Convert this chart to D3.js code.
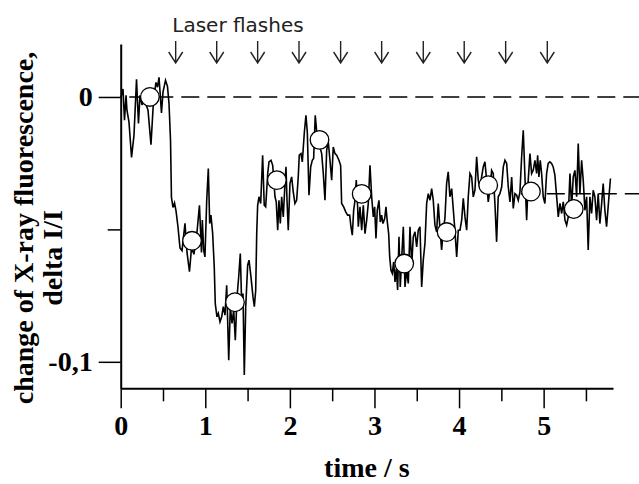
<!DOCTYPE html>
<html>
<head>
<meta charset="utf-8">
<script src="https://cdn.jsdelivr.net/npm/d3@7"></script>
<style>
  body { margin: 0; background: #fff; }
</style>
</head>
<body>
<svg width="639" height="484"></svg>
<script>
// Raw fluorescence trace, vertices: [time (s), delta I/I]
const trace = [
  [0.004, 0.000], [0.027, 0.003], [0.045, -0.0088], [0.063, 0.0006], [0.074, -0.005],
  [0.098, -0.0095], [0.128, -0.0228], [0.157, -0.0145], [0.187, 0.0067], [0.21, -0.010],
  [0.228, 0.0006], [0.252, -0.003], [0.275, -0.0005], [0.323, -0.005], [0.358, -0.018],
  [0.388, -0.0012], [0.417, 0.0055], [0.435, 0.0037], [0.453, 0.0074], [0.482, -0.006],
  [0.5, 0.0018], [0.53, 0.0063], [0.553, 0.004], [0.571, -0.0024], [0.589, -0.0163],
  [0.6, -0.0379], [0.618, -0.0417], [0.636, -0.040], [0.654, -0.043], [0.677, -0.049],
  [0.701, -0.057], [0.725, -0.058], [0.76, -0.0477], [0.784, -0.0587], [0.813, -0.066],
  [0.837, -0.057], [0.866, -0.0594], [0.902, -0.051], [0.931, -0.0409], [0.955, -0.0587],
  [0.965, -0.0465], [0.981, -0.0578], [0.996, -0.0604], [1.017, -0.039], [1.036, -0.027],
  [1.052, -0.0478], [1.067, -0.0446], [1.087, -0.0515], [1.106, -0.0642], [1.118, -0.078],
  [1.138, -0.083], [1.154, -0.0817], [1.174, -0.0849], [1.194, -0.083], [1.213, -0.0792],
  [1.233, -0.0824], [1.253, -0.0711], [1.277, -0.0994], [1.296, -0.0792], [1.316, -0.0855],
  [1.336, -0.0805], [1.355, -0.0918], [1.375, -0.0755], [1.395, -0.0679], [1.414, -0.0591],
  [1.43, -0.078], [1.446, -0.0742], [1.461, -0.105], [1.478, -0.0792], [1.501, -0.0635],
  [1.517, -0.0616], [1.54, -0.0679], [1.564, -0.0755], [1.58, -0.0792], [1.596, -0.073],
  [1.608, -0.0515], [1.619, -0.0409], [1.635, -0.0377], [1.655, -0.0402], [1.678, -0.022],
  [1.697, -0.0409], [1.714, -0.0415], [1.738, -0.0289], [1.753, -0.0245], [1.777, -0.0239],
  [1.797, -0.0258], [1.824, -0.0377], [1.839, -0.0396], [1.856, -0.0503], [1.871, -0.039],
  [1.887, -0.0478], [1.903, -0.0377], [1.922, -0.0453], [1.938, -0.0352], [1.954, -0.0264],
  [1.966, -0.039], [1.981, -0.0503], [2.001, -0.0327], [2.021, -0.0302], [2.04, -0.0358],
  [2.06, -0.0402], [2.08, -0.039], [2.099, -0.0302], [2.111, -0.022], [2.131, -0.0214],
  [2.147, -0.0245], [2.17, -0.0138], [2.19, -0.0069], [2.206, -0.0132], [2.226, -0.0371],
  [2.246, -0.0264], [2.265, -0.0239], [2.281, -0.0232], [2.3, -0.0069], [2.317, -0.0132],
  [2.336, -0.0163], [2.36, -0.0195], [2.376, -0.0214], [2.395, -0.0289], [2.415, -0.039],
  [2.435, -0.0201], [2.454, -0.017], [2.474, -0.0239], [2.494, -0.0314], [2.513, -0.0189],
  [2.533, -0.0214], [2.553, -0.022], [2.58, -0.0239], [2.6, -0.0258], [2.612, -0.0402],
  [2.636, -0.0415], [2.66, -0.0434], [2.683, -0.0446], [2.707, -0.0446], [2.722, -0.049],
  [2.738, -0.0522], [2.754, -0.0428], [2.77, -0.039], [2.785, -0.0314], [2.801, -0.0415],
  [2.809, -0.049], [2.829, -0.0415], [2.849, -0.0503], [2.868, -0.0409], [2.888, -0.0516],
  [2.908, -0.0465], [2.927, -0.0402], [2.947, -0.0258], [2.967, -0.0377], [2.986, -0.0453],
  [3.002, -0.0415], [3.018, -0.0534], [3.033, -0.0428], [3.053, -0.039], [3.069, -0.0472],
  [3.085, -0.0446], [3.1, -0.0478], [3.121, -0.0459], [3.136, -0.0415], [3.152, -0.0472],
  [3.168, -0.0516], [3.18, -0.0604], [3.195, -0.0654], [3.211, -0.0666], [3.227, -0.0623],
  [3.243, -0.0698], [3.258, -0.0648], [3.274, -0.0729], [3.29, -0.0528], [3.305, -0.0717],
  [3.321, -0.0616], [3.341, -0.049], [3.361, -0.0717], [3.381, -0.0654], [3.4, -0.0704],
  [3.42, -0.049], [3.44, -0.0635], [3.459, -0.0528], [3.479, -0.0509], [3.499, -0.0566],
  [3.518, -0.0503], [3.538, -0.049], [3.558, -0.0717], [3.577, -0.0616], [3.597, -0.0553],
  [3.617, -0.0402], [3.636, -0.0365], [3.656, -0.039], [3.676, -0.0346], [3.695, -0.039],
  [3.715, -0.0484], [3.735, -0.0509], [3.754, -0.0402], [3.774, -0.0497], [3.794, -0.0578],
  [3.813, -0.0503], [3.833, -0.0459], [3.853, -0.0327], [3.872, -0.0283], [3.892, -0.0377],
  [3.913, -0.0346], [3.931, -0.0421], [3.951, -0.0503], [3.972, -0.0604], [3.991, -0.0503],
  [4.011, -0.0503], [4.031, -0.0465], [4.05, -0.0383], [4.07, -0.0453], [4.09, -0.0503],
  [4.109, -0.0377], [4.129, -0.0289], [4.149, -0.0302], [4.168, -0.0377], [4.188, -0.0352],
  [4.208, -0.0226], [4.227, -0.0314], [4.247, -0.0346], [4.267, -0.0302], [4.286, -0.0264],
  [4.306, -0.0245], [4.326, -0.0314], [4.345, -0.0396], [4.365, -0.0352], [4.385, -0.0277],
  [4.404, -0.0289], [4.424, -0.0402], [4.444, -0.0547], [4.463, -0.0377], [4.483, -0.0365],
  [4.504, -0.034], [4.523, -0.0264], [4.543, -0.0239], [4.563, -0.0251], [4.582, -0.034],
  [4.602, -0.0396], [4.622, -0.0302], [4.641, -0.0421], [4.661, -0.0365], [4.681, -0.0371],
  [4.7, -0.039], [4.72, -0.0358], [4.74, -0.0226], [4.759, -0.0126], [4.779, -0.0302],
  [4.799, -0.0465], [4.818, -0.0314], [4.838, -0.0214], [4.858, -0.0289], [4.877, -0.0277],
  [4.897, -0.0239], [4.917, -0.0289], [4.929, -0.022], [4.944, -0.0302], [4.96, -0.0239],
  [4.976, -0.0289], [4.995, -0.0377], [5.015, -0.0402], [5.035, -0.0289], [5.054, -0.0251],
  [5.074, -0.0245], [5.094, -0.0251], [5.113, -0.0264], [5.133, -0.0295], [5.154, -0.0377],
  [5.173, -0.0453], [5.193, -0.0402], [5.213, -0.044], [5.232, -0.0396], [5.252, -0.0465],
  [5.272, -0.0484], [5.291, -0.0453], [5.311, -0.0289], [5.331, -0.0415], [5.35, -0.0302],
  [5.37, -0.0277], [5.39, -0.0377], [5.409, -0.0176], [5.429, -0.0365], [5.449, -0.0239],
  [5.468, -0.0314], [5.488, -0.0428], [5.508, -0.0377], [5.527, -0.0578], [5.547, -0.0377],
  [5.567, -0.044], [5.586, -0.0352], [5.606, -0.0377], [5.626, -0.0465], [5.645, -0.0365],
  [5.665, -0.0478], [5.686, -0.0402], [5.704, -0.0327], [5.724, -0.0428], [5.744, -0.049],
  [5.772, -0.0377], [5.79, -0.0308]
];

// Averages after each flash (open circles)
const means = [
  [0.345, 0.000], [0.843, -0.0543], [1.351, -0.0775], [1.846, -0.0314], [2.35, -0.0162],
  [2.849, -0.0366], [3.352, -0.0629], [3.853, -0.051], [4.345, -0.0333], [4.85, -0.0357],
  [5.356, -0.0423]
];

// Laser flash arrows
const flashTimes = [0.65, 1.135, 1.619, 2.108, 2.6, 3.085, 3.577, 4.061, 4.551, 5.043];

// Dashed reference levels: [level, start time]
const refLevels = [[0, 0], [-0.0365, 4.73]];

const xMajor = [0, 1, 2, 3, 4, 5];
const xMinor = [0.5, 1.5, 2.5, 3.5, 4.5, 5.5];
const yMajor = [0, -0.1];
const yMinor = [-0.05];

const svg = d3.select("svg");
const margin = { top: 44, right: 26, bottom: 95.7, left: 120.7 };
const width = 639 - margin.left - margin.right;
const height = 484 - margin.top - margin.bottom;

const g = svg.append("g").attr("transform", `translate(${margin.left},${margin.top})`);

const x = d3.scaleLinear().domain([0, 5.82]).range([0, width]);
const y = d3.scaleLinear().domain([-0.11, 0.02]).range([height, 0]);

const serif = "'Liberation Serif', 'Times New Roman', serif";

// dashed levels
g.selectAll(".ref")
  .data(refLevels)
  .enter().append("line")
  .attr("class", "ref")
  .attr("x1", d => x(d[1]))
  .attr("x2", 639 - margin.left)
  .attr("y1", d => y(d[0]))
  .attr("y2", d => y(d[0]))
  .attr("stroke", "#000")
  .attr("stroke-width", 1.5)
  .attr("stroke-dasharray", "18,8")
  .attr("stroke-dashoffset", (d, i) => i === 0 ? 17.4 : 0);

// trace
const line = d3.line().x(d => x(d[0])).y(d => y(d[1]));
g.append("path")
  .datum(trace)
  .attr("d", line)
  .attr("fill", "none")
  .attr("stroke", "#000")
  .attr("stroke-width", 1.6)
  .attr("stroke-linejoin", "miter");

// circles
g.selectAll(".mean")
  .data(means)
  .enter().append("circle")
  .attr("class", "mean")
  .attr("cx", d => x(d[0]))
  .attr("cy", d => y(d[1]))
  .attr("r", 9.3)
  .attr("fill", "#fff")
  .attr("stroke", "#000")
  .attr("stroke-width", 1.3);

// axes
const fmt = d => String(d).replace(".", ",");

const xAxis = g.append("g")
  .attr("transform", `translate(0,${height})`)
  .call(d3.axisBottom(x).tickValues(xMajor).tickSize(20).tickPadding(7).tickSizeOuter(0).tickFormat(fmt));
const xAxisMinor = g.append("g")
  .attr("transform", `translate(0,${height})`)
  .call(d3.axisBottom(x).tickValues(xMinor).tickSize(13).tickSizeOuter(0).tickFormat(""));

const yAxis = g.append("g")
  .call(d3.axisLeft(y).tickValues(yMajor).tickSize(22).tickPadding(6).tickSizeOuter(0).tickFormat(fmt));
const yAxisMinor = g.append("g")
  .call(d3.axisLeft(y).tickValues(yMinor).tickSize(13).tickSizeOuter(0).tickFormat(""));

xAxisMinor.select(".domain").remove();
yAxisMinor.select(".domain").remove();

[xAxis, xAxisMinor, yAxis, yAxisMinor].forEach(a => {
  a.attr("font-family", serif).attr("font-size", 28).attr("font-weight", "bold");
  a.select(".domain").attr("stroke-width", 2);
  a.selectAll(".tick line").attr("stroke-width", 1.5);
  a.selectAll(".tick text").attr("fill", "#000");
});

// axis titles
g.append("text")
  .attr("x", width / 2)
  .attr("y", 433)
  .attr("text-anchor", "middle")
  .attr("font-family", serif)
  .attr("font-size", 28)
  .attr("font-weight", "bold")
  .text("time / s");

svg.append("text")
  .attr("transform", "translate(33,228) rotate(-90)")
  .attr("text-anchor", "middle")
  .attr("font-family", serif)
  .attr("font-size", 28)
  .attr("font-weight", "bold")
  .text("change of X-ray fluorescence,");

svg.append("text")
  .attr("transform", "translate(62,258) rotate(-90)")
  .attr("text-anchor", "middle")
  .attr("font-family", serif)
  .attr("font-size", 28)
  .attr("font-weight", "bold")
  .text("delta I/I");

// laser flashes
svg.append("text")
  .attr("x", 238)
  .attr("y", 31.7)
  .attr("text-anchor", "middle")
  .attr("font-family", "'DejaVu Sans', Verdana, sans-serif")
  .attr("font-size", 20)
  .attr("fill", "#222")
  .text("Laser flashes");

svg.selectAll(".flash")
  .data(flashTimes)
  .enter().append("path")
  .attr("class", "flash")
  .attr("d", d => {
    const px = margin.left + x(d);
    return `M${px},41V63M${px - 7},52L${px},63L${px + 7},52`;
  })
  .attr("fill", "none")
  .attr("stroke", "#222")
  .attr("stroke-width", 1.4);
</script>
</body>
</html>
